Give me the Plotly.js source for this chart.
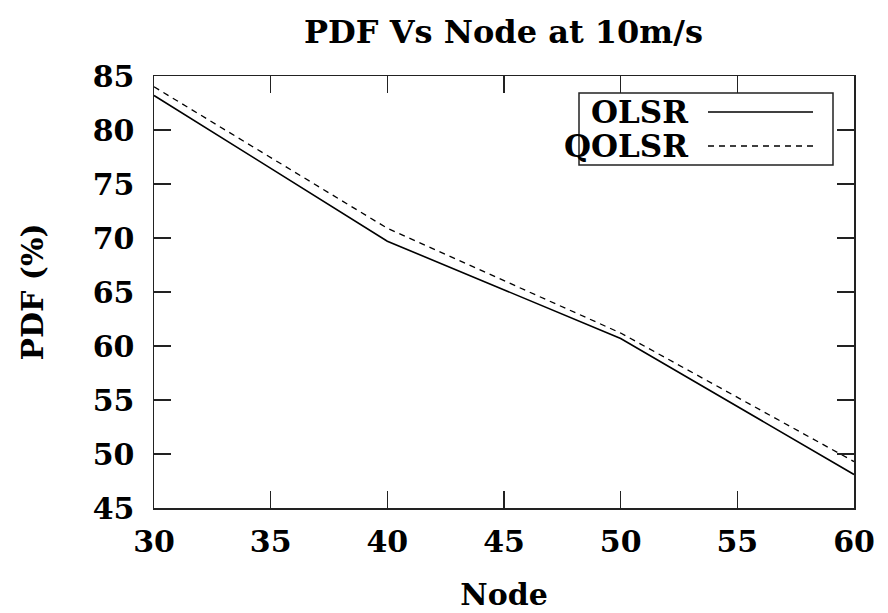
<!DOCTYPE html>
<html>
<head>
<meta charset="utf-8">
<script src="https://cdn.plot.ly/plotly-3.0.1.min.js"></script>
<style>html,body{margin:0;padding:0;background:#fff;}#chart{width:888px;height:613px;}</style>
</head>
<body>
<div id="chart"></div>
<script>
// Data
const nodes = [30, 40, 50, 60];
const olsr = [83.2, 69.7, 60.7, 48.1];
const qolsr = [84.0, 70.9, 61.2, 49.3];
const xTicks = [30, 35, 40, 45, 50, 55, 60];
const yTicks = [45, 50, 55, 60, 65, 70, 75, 80, 85];
const seriesNames = ['OLSR', 'QOLSR'];

const FONT = 'DejaVu Serif';
const W = 888, H = 613;
const L = 154, R = 34, T = 76, B = 105;
const pw = W - L - R, ph = H - T - B;
// pixel -> paper helpers for the legend box
const px = x => (x - L) / pw;
const py = y => 1 - (y - T) / ph;

const traces = [
  {x: nodes, y: olsr, name: seriesNames[0], mode: 'lines', type: 'scatter',
   line: {color: '#000', width: 1.6}},
  {x: nodes, y: qolsr, name: seriesNames[1], mode: 'lines', type: 'scatter',
   line: {color: '#000', width: 1.3, dash: '6px,5px'}}
];

const axisCommon = {
  showgrid: false, zeroline: false, showline: true, mirror: 'ticks',
  linecolor: '#222', linewidth: 1.5, ticks: 'inside', ticklen: 17, tickwidth: 1.5,
  tickcolor: '#222',
  tickfont: {family: FONT, size: 30, weight: 'bold', color: '#000'}
};

const layout = {
  width: W, height: H,
  margin: {l: L, r: R, t: T, b: B},
  paper_bgcolor: '#fff', plot_bgcolor: '#fff',
  showlegend: false,
  title: {text: 'PDF Vs Node at 10m/s', x: 0.567, xanchor: 'center', y: 1 - 32 / H, yanchor: 'middle',
          font: {family: FONT, size: 32, weight: 'bold', color: '#000'}},
  xaxis: Object.assign({}, axisCommon, {
    range: [30, 60], tickvals: xTicks, ticktext: xTicks.map(String),
    ticklabelstandoff: 6,
    title: {text: 'Node', standoff: 26, font: {family: FONT, size: 30, weight: 'bold', color: '#000'}}
  }),
  yaxis: Object.assign({}, axisCommon, {
    range: [45, 85], tickvals: yTicks, ticktext: yTicks.map(String),
    ticklabelstandoff: 12,
    title: {text: 'PDF (%)', standoff: 40, font: {family: FONT, size: 30, weight: 'bold', color: '#000'}}
  }),
  shapes: [
    {type: 'rect', xref: 'paper', yref: 'paper', x0: px(579), x1: px(833), y0: py(165), y1: py(93),
     line: {color: '#222', width: 1.5}, fillcolor: '#fff', layer: 'above'},
    {type: 'line', xref: 'paper', yref: 'paper', x0: px(708), x1: px(813), y0: py(112), y1: py(112),
     line: {color: '#000', width: 1.6}, layer: 'above'},
    {type: 'line', xref: 'paper', yref: 'paper', x0: px(708), x1: px(813), y0: py(146), y1: py(146),
     line: {color: '#000', width: 1.3, dash: '6px,5px'}, layer: 'above'}
  ],
  annotations: [
    {text: seriesNames[0], xref: 'paper', yref: 'paper', x: px(690), y: py(112), xanchor: 'right', yanchor: 'middle',
     showarrow: false, font: {family: FONT, size: 31, weight: 'bold', color: '#000'}},
    {text: seriesNames[1], xref: 'paper', yref: 'paper', x: px(690), y: py(146), xanchor: 'right', yanchor: 'middle',
     showarrow: false, font: {family: FONT, size: 31, weight: 'bold', color: '#000'}}
  ]
};

Plotly.newPlot('chart', traces, layout, {displayModeBar: false, staticPlot: true});
</script>
</body>
</html>
